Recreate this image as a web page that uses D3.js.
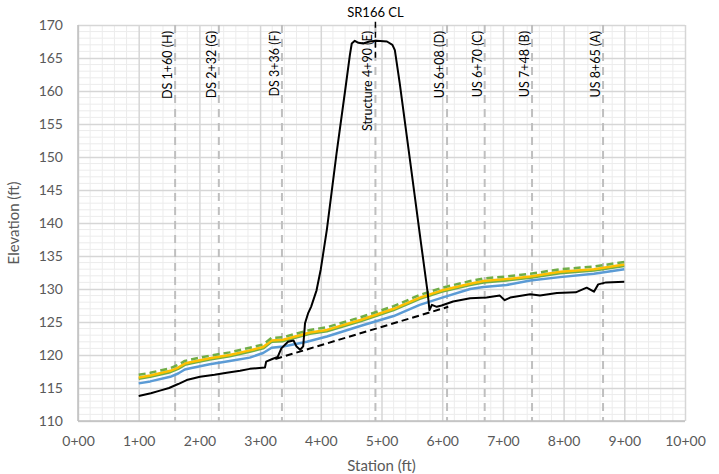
<!DOCTYPE html>
<html>
<head>
<meta charset="utf-8">
<script src="https://cdn.jsdelivr.net/npm/d3@7"></script>
<style>
  body { margin: 0; background: #fff; }
  svg text { font-family: Lato, "Liberation Sans", sans-serif; }
</style>
</head>
<body>
<div class="profile-chart"></div>
<script>
// station (ft), elevation (ft)
const groundLine = [
  [100,113.8],[120,114.2],[135,114.6],[150,115.0],[165,115.6],[179,116.2],[201,116.7],[225,117.0],
  [245,117.3],[267,117.6],[283,117.9],[308,118.1],[310,119.0],[320,119.4],[329,119.7],[335,121.0],
  [346,122.0],[355,122.2],[360,121.3],[366,120.8],[371,121.3],[374,124.8],[379,126.3],[384,127.3],
  [393,129.8],[400,133.0],[410,139.0],[426,150.6],[440,160.0],[448,165.5],[451,167.2],[456,167.6],
  [462,167.3],[470,167.2],[480,167.5],[492,167.6],[509,167.5],[518,167.0],[522,166.2],[530,161.2],
  [547,149.5],[565,137.0],[576,129.5],[579,126.8],[583,127.6],[591,127.3],[599,127.5],[618,128.1],
  [646,128.6],[673,128.7],[695,129.0],[703,128.3],[712,128.7],[745,129.2],[761,129.0],[789,129.4],
  [820,129.5],[838,130.2],[850,129.6],[857,130.7],[870,131.0],[900,131.1]
]
const culvertLine = [[325,119.4],[610,127.3]]
const blueLine = [
  [100,115.7],[119,116.0],[152,116.7],[165,117.2],[176,117.8],[185,118.0],[217,118.6],[250,119.1],
  [283,119.6],[305,120.3],[319,121.1],[338,121.3],[377,122.0],[410,122.8],[465,124.4],[520,125.9],
  [563,127.6],[600,128.7],[646,130.0],[668,130.3],[706,130.6],[745,131.3],[794,131.8],[850,132.3],[900,133.0]
]
const greenLine = [
  [100,116.4],[119,116.7],[152,117.4],[165,117.9],[176,118.5],[185,118.7],[217,119.3],[250,119.8],
  [283,120.5],[305,121.0],[319,122.0],[338,122.1],[382,123.2],[410,123.6],[465,125.1],[520,126.8],
  [563,128.5],[600,129.6],[646,130.6],[668,131.0],[706,131.3],[745,131.7],[794,132.4],[850,132.8],[900,133.5]
]
const yellowLine = [
  [100,116.6],[119,116.9],[152,117.6],[165,118.1],[176,118.7],[185,118.9],[217,119.5],[250,120.0],
  [283,120.7],[305,121.2],[319,122.2],[338,122.3],[382,123.4],[410,123.8],[465,125.3],[520,127.0],
  [563,128.7],[600,129.8],[646,130.8],[668,131.2],[706,131.5],[745,131.9],[794,132.6],[850,133.0],[900,133.7]
]
const greenDashLine = [
  [100,117.0],[119,117.3],[152,118.0],[165,118.5],[176,119.1],[185,119.3],[217,119.9],[250,120.4],
  [283,121.1],[305,121.6],[319,122.6],[338,122.7],[382,123.8],[410,124.2],[465,125.7],[520,127.4],
  [563,129.1],[600,130.2],[646,131.2],[668,131.6],[706,131.9],[745,132.3],[794,133.0],[850,133.4],[900,134.1]
]
const centerLine = [[490,170.5],[490,164.5]]

const stationMarks = [160, 232, 336, 490, 608, 670, 748, 865]
const stationLabels = ["DS 1+60 (H)", "DS 2+32 (G)", "DS 3+36 (F)", "Structure 4+90 (E)",
  "US 6+08 (D)", "US 6+70 (C)", "US 7+48 (B)", "US 8+65 (A)"]
const xTicks = [0, 100, 200, 300, 400, 500, 600, 700, 800, 900, 1000]
const yTicks = [110, 115, 120, 125, 130, 135, 140, 145, 150, 155, 160, 165, 170]

const margin = {top: 25, right: 34, bottom: 53, left: 78},
    width = 719 - margin.left - margin.right,
    height = 474 - margin.top - margin.bottom;

const svg = d3.select(".profile-chart")
    .append("svg")
        .attr("width", 719)
        .attr("height", 474)
    .append("g")
        .attr("transform", "translate(" + margin.left + "," + margin.top + ")");

const x = d3.scaleLinear().domain([0, 1000]).range([0, width])
const y = d3.scaleLinear().domain([110, 170]).range([height, 0])

// minor grid
svg.append("g")
    .selectAll("line")
    .data(d3.range(0, 1001, 20).filter(d => d % 100 != 0))
    .enter().append("line")
        .attr("x1", d => x(d)).attr("x2", d => x(d))
        .attr("y1", 0).attr("y2", height)
        .attr("stroke", "#ececec").attr("stroke-width", 1)
svg.append("g")
    .selectAll("line")
    .data(d3.range(110, 171, 1).filter(d => d % 5 != 0))
    .enter().append("line")
        .attr("x1", 0).attr("x2", width)
        .attr("y1", d => y(d)).attr("y2", d => y(d))
        .attr("stroke", "#ececec").attr("stroke-width", 1)

// major grid
svg.append("g")
    .call(d3.axisBottom(x).tickValues(xTicks).tickSize(-height).tickFormat(""))
    .attr("transform", "translate(0," + height + ")")
    .call(g => g.select(".domain").remove())
    .selectAll("line").attr("stroke", "#d6d6d6").attr("stroke-width", 1.5)
svg.append("g")
    .call(d3.axisLeft(y).tickValues(yTicks).tickSize(-width).tickFormat(""))
    .call(g => g.select(".domain").remove())
    .selectAll("line").attr("stroke", "#d6d6d6").attr("stroke-width", 1.5)

// axes lines + labels
svg.append("line").attr("x1", 0).attr("x2", 0).attr("y1", 0).attr("y2", height)
    .attr("stroke", "#bfbfbf").attr("stroke-width", 1.5)
svg.append("line").attr("x1", 0).attr("x2", width).attr("y1", height).attr("y2", height)
    .attr("stroke", "#bfbfbf").attr("stroke-width", 1.5)

svg.append("g")
    .attr("transform", "translate(0," + height + ")")
    .call(d3.axisBottom(x).tickValues(xTicks).tickSize(0).tickPadding(15)
        .tickFormat(d => (d / 100) + "+00"))
    .call(g => g.select(".domain").remove())
    .selectAll("text")
        .attr("font-size", 14)
        .attr("fill", "#595959")

svg.append("g")
    .call(d3.axisLeft(y).tickValues(yTicks).tickSize(0).tickPadding(15))
    .call(g => g.select(".domain").remove())
    .selectAll("text")
        .attr("font-size", 14)
        .attr("fill", "#595959")

svg.append("text")
    .attr("x", width / 2)
    .attr("y", height + 50)
    .attr("text-anchor", "middle")
    .attr("font-size", 15)
    .attr("fill", "#595959")
    .text("Station (ft)")

svg.append("text")
    .attr("transform", "rotate(-90)")
    .attr("x", -height / 2)
    .attr("y", -59)
    .attr("text-anchor", "middle")
    .attr("font-size", 15)
    .attr("fill", "#595959")
    .text("Elevation (ft)")

// station lines
svg.selectAll(".station-line")
    .data(stationMarks)
    .enter().append("line")
        .attr("class", "station-line")
        .attr("x1", d => x(d)).attr("x2", d => x(d))
        .attr("y1", y(170)).attr("y2", y(110))
        .attr("stroke", "#bfbfbf").attr("stroke-width", 2)
        .attr("stroke-dasharray", "8,6")

svg.selectAll(".station-label")
    .data(stationMarks)
    .enter().append("text")
        .attr("class", "station-label")
        .attr("transform", d => "translate(" + (x(d) - 3) + "," + 6 + ") rotate(-90)")
        .attr("text-anchor", "end")
        .attr("font-size", 12.5)
        .attr("fill", "#000")
        .text((d, i) => stationLabels[i])

const line = d3.line().x(d => x(d[0])).y(d => y(d[1]))

function drawSeries(data, color, w, dash) {
    svg.append("path")
        .datum(data)
        .attr("fill", "none")
        .attr("stroke", color)
        .attr("stroke-width", w)
        .attr("stroke-linejoin", "round")
        .attr("stroke-dasharray", dash || null)
        .attr("d", line)
}

drawSeries(culvertLine, "#000", 2, "7,4")
drawSeries(blueLine, "#5b9bd5", 2.5)
drawSeries(greenLine, "#70ad47", 2.5)
drawSeries(yellowLine, "#ffc000", 2.5)
drawSeries(greenDashLine, "#70ad47", 2.5, "7,4")
drawSeries(groundLine, "#000", 2)
drawSeries(centerLine, "#000", 1.5, "6,4")

svg.append("text")
    .attr("x", x(490))
    .attr("y", -8)
    .attr("text-anchor", "middle")
    .attr("font-size", 13)
    .attr("fill", "#000")
    .text("SR166 CL")
</script>
</body>
</html>
